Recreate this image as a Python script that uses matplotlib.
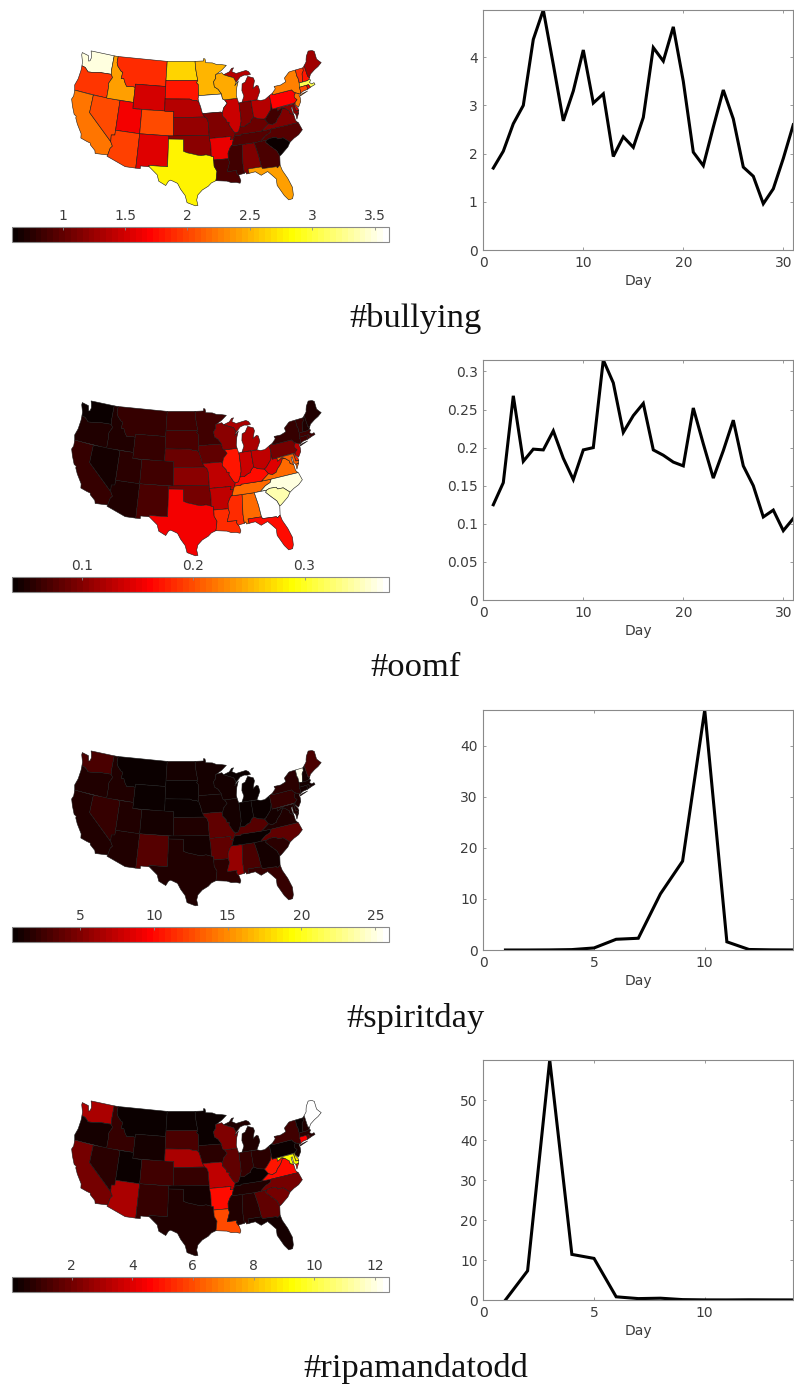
import numpy as np
import matplotlib
matplotlib.use("Agg")
import matplotlib.pyplot as plt
from matplotlib.collections import PolyCollection
from matplotlib.colors import Normalize
from matplotlib.cm import ScalarMappable

# ---- data -------------------------------------------------------------
TITLES = ["#bullying", "#oomf", "#spiritday", "#ripamandatodd"]

STATES = ["WA","OR","CA","NV","ID","MT","WY","UT","CO","AZ","NM","ND","SD","NE","KS","OK","TX",
          "MN","IA","MO","AR","LA","MS","AL","TN","KY","IL","IN","OH","MI","WI","WV","VA","NC",
          "SC","GA","FL","PA","NY","VT","NH","ME","MA","CT","RI","NJ","DE","MD"]

bullying_state = [3.5,1.95,2.2,2.05,2.4,1.9,1.5,1.65,2.05,2.0,1.57,2.65,1.8,1.38,1.22,1.18,2.78,
                  2.5,3.6,1.15,1.6,0.9,0.86,1.13,0.97,1.05,1.48,1.15,1.35,1.35,2.47,0.85,1.12,0.95,
                  0.62,0.9,2.4,1.7,2.25,1.95,1.8,1.3,3.05,2.05,1.65,2.2,1.5,1.2]
oomf_state = [.04,.05,.06,.045,.05,.062,.062,.055,.065,.05,.072,.066,.07,.085,.102,.092,.155,
              .065,.082,.13,.13,.185,.18,.215,.215,.165,.17,.137,.13,.12,.103,.145,.215,.365,
              .345,.375,.165,.092,.062,.06,.05,.05,.066,.066,.07,.13,.18,.21]
spiritday_state = [3.0,1.3,1.5,2.3,1.3,.6,.6,1.5,.8,1.3,3.4,1.1,.6,.6,1.3,1.1,1.3,
                   1.0,1.1,3.6,3.8,1.9,5.9,2.8,.6,3.2,1.1,.6,.6,.6,.8,1.0,1.5,3.6,
                   1.9,.8,2.3,2.1,1.9,25.5,.8,3.0,.8,1.1,1.1,1.5,1.5,1.5]
ripa_state = [3.05,.4,2.05,.75,.95,.1,.3,.12,1.05,3.05,.95,.1,1.3,3.0,.95,.4,.55,
              .2,.75,3.5,4.75,5.9,.55,.65,.55,.2,1.7,.95,.75,.5,2.2,5.0,4.8,2.05,
              2.05,1.65,.4,.2,1.05,.2,.55,12.4,.65,4.6,1.5,.3,8.9,9.3]

bullying_day = list(range(1, 32))
bullying_vals = [1.7,2.05,2.62,3.0,4.37,4.98,3.85,2.68,3.3,4.15,3.05,3.24,1.94,2.35,2.13,2.75,
                 4.2,3.92,4.63,3.5,2.03,1.75,2.55,3.32,2.72,1.72,1.53,.96,1.27,1.9,2.6]
oomf_day = list(range(1, 32))
oomf_vals = [.125,.154,.268,.182,.198,.197,.222,.186,.158,.197,.2,.315,.285,.22,.242,.258,
             .197,.19,.181,.176,.252,.205,.16,.196,.236,.176,.15,.109,.118,.091,.107]
spirit_day = list(range(1, 15))
spirit_vals = [0,0,.02,.08,.4,2.1,2.3,11,17.4,47,1.6,.1,.03,.01]
ripa_day = list(range(1, 15))
ripa_vals = [0,7.3,60,11.4,10.4,.8,.35,.45,.1,.03,.02,.05,.03,.02]

cbar_ranges = [(0.594,3.615),(0.0367,0.376),(0.39,25.93),(0.03,12.47)]
cbar_ticks = [[1,1.5,2,2.5,3,3.5],[0.1,0.2,0.3],[5,10,15,20,25],[2,4,6,8,10,12]]
cbar_labels = [["1","1.5","2","2.5","3","3.5"],["0.1","0.2","0.3"],
               ["5","10","15","20","25"],["2","4","6","8","10","12"]]
line_xlim = [31,31,14,14]
line_ylim = [4.98,0.315,47,60]
line_xticks = [[0,10,20,30],[0,10,20,30],[0,5,10],[0,5,10]]
line_yticks = [[0,1,2,3,4],[0,.05,.1,.15,.2,.25,.3],[0,10,20,30,40],[0,10,20,30,40,50]]
line_ylabels = [["0","1","2","3","4"],["0","0.05","0.1","0.15","0.2","0.25","0.3"],
                ["0","10","20","30","40"],["0","10","20","30","40","50"]]

# state outlines (lon, lat), simplified
SHAPES = {
"WA":[[(-124.7,48.38),(-123.1,48.15),(-122.75,47.3),(-122.45,47.4),(-122.3,47.9),(-122.5,48.5),(-122.75,49),(-117.04,49),(-117.04,46.42),(-116.92,45.99),(-119,45.93),(-119.6,45.92),(-121.2,45.65),(-122.3,45.55),(-122.8,45.9),(-123.2,46.15),(-124,46.27),(-124.1,46.9),(-124.7,48)]],
"OR":[[(-124,46.27),(-123.2,46.15),(-122.8,45.9),(-122.3,45.55),(-121.2,45.65),(-119.6,45.92),(-119,45.93),(-116.92,45.99),(-116.5,45.5),(-116.85,45),(-117.2,44.4),(-117.03,44),(-117.03,42),(-124.2,42),(-124.5,42.85),(-124.1,44),(-123.95,45.5)]],
"CA":[[(-124.2,42),(-120,42),(-120,39),(-114.63,35),(-114.14,34.3),(-114.5,33.9),(-114.72,32.72),(-117.12,32.53),(-117.3,33),(-118.4,33.75),(-118.5,34.03),(-119.2,34.15),(-120.5,34.45),(-120.65,35.15),(-121.9,36.6),(-122.5,37.5),(-122.5,37.8),(-123,38),(-123.8,39.3),(-124.35,40.4),(-124.1,41)]],
"NV":[[(-120,42),(-114.04,42),(-114.04,36.2),(-114.75,36.1),(-114.63,35),(-120,39)]],
"ID":[[(-117.04,49),(-116.05,49),(-116.05,48),(-115.7,47.45),(-114.7,46.7),(-114.35,46.65),(-114.5,45.6),(-113.9,45.65),(-113.45,44.95),(-113,44.45),(-111.5,44.55),(-111.05,44.48),(-111.05,42),(-117.03,42),(-117.03,44),(-117.2,44.4),(-116.85,45),(-116.5,45.5),(-116.92,45.99),(-117.04,46.42)]],
"MT":[[(-116.05,49),(-104.05,49),(-104.05,45),(-111.05,45),(-111.05,44.48),(-111.5,44.55),(-113,44.45),(-113.45,44.95),(-113.9,45.65),(-114.5,45.6),(-114.35,46.65),(-114.7,46.7),(-115.7,47.45),(-116.05,48)]],
"WY":[[(-111.05,45),(-104.05,45),(-104.05,41),(-111.05,41)]],
"UT":[[(-114.04,42),(-111.05,42),(-111.05,41),(-109.05,41),(-109.05,37),(-114.04,37)]],
"CO":[[(-109.05,41),(-102.05,41),(-102.05,37),(-109.05,37)]],
"AZ":[[(-114.04,37),(-109.05,37),(-109.05,31.33),(-111.07,31.33),(-114.81,32.5),(-114.72,32.72),(-114.5,33.9),(-114.14,34.3),(-114.63,35),(-114.75,36.1),(-114.04,36.2)]],
"NM":[[(-109.05,37),(-103,37),(-103.04,32),(-106.62,32),(-106.53,31.78),(-108.2,31.78),(-108.2,31.33),(-109.05,31.33)]],
"ND":[[(-104.05,49),(-97.23,49),(-97.1,48),(-96.85,47),(-96.56,45.94),(-104.05,45.94)]],
"SD":[[(-104.05,45.94),(-96.56,45.94),(-96.85,45.6),(-96.45,45.3),(-96.45,43.5),(-96.6,43),(-96.45,42.49),(-97,42.75),(-97.9,42.8),(-98.5,43),(-104.05,43)]],
"NE":[[(-104.05,43),(-98.5,43),(-97.9,42.8),(-97,42.75),(-96.45,42.49),(-96.1,41.7),(-95.9,41),(-95.31,40),(-102.05,40),(-102.05,41),(-104.05,41)]],
"KS":[[(-102.05,40),(-95.31,40),(-94.9,39.8),(-94.6,39.1),(-94.62,37),(-102.05,37)]],
"OK":[[(-103,37),(-94.62,37),(-94.43,35.4),(-94.48,33.64),(-95.5,33.9),(-96.5,33.8),(-97.2,33.9),(-98.1,34.1),(-99.2,34.3),(-100,34.56),(-100,36.5),(-103,36.5)]],
"TX":[[(-103.04,36.5),(-100,36.5),(-100,34.56),(-99.2,34.3),(-98.1,34.1),(-97.2,33.9),(-96.5,33.8),(-95.5,33.9),(-94.48,33.64),(-94.04,33.55),(-94.04,33),(-94.04,32),(-93.55,31.2),(-93.7,30.3),(-93.85,29.7),(-94.7,29.4),(-95.3,28.9),(-96.4,28.35),(-97.2,27.6),(-97.4,26.8),(-97.15,25.96),(-97.6,25.9),(-99.1,26.4),(-99.5,27.5),(-100.4,28.5),(-101,29.4),(-102.3,29.88),(-102.7,29.7),(-103.15,28.98),(-104.5,29.6),(-104.9,30.6),(-106.53,31.78),(-106.62,32),(-103.04,32)]],
"MN":[[(-97.23,49),(-95.15,49),(-95.15,49.38),(-94.8,49.3),(-94.6,48.7),(-93,48.6),(-92,48.3),(-90.8,48.2),(-89.6,48),(-90.8,47.3),(-92.1,46.75),(-92.3,46.65),(-92.3,46.1),(-92.85,45.6),(-92.75,44.75),(-91.9,44.3),(-91.22,43.5),(-96.45,43.5),(-96.45,45.3),(-96.85,45.6),(-96.56,45.94),(-96.85,47),(-97.1,48)]],
"IA":[[(-96.45,43.5),(-91.22,43.5),(-91.1,42.7),(-90.65,42.5),(-90.15,41.9),(-91.05,41.2),(-91.4,40.4),(-91.7,40.6),(-95.77,40.58),(-95.9,41),(-96.1,41.7),(-96.45,42.49),(-96.6,43)]],
"MO":[[(-95.77,40.58),(-91.7,40.6),(-91.4,40.4),(-91.5,40),(-90.75,39.3),(-90.7,38.9),(-90.15,38.8),(-90.25,38.4),(-89.5,37.3),(-89.15,37),(-89.4,36.5),(-89.7,36),(-90.37,36),(-90.15,36.5),(-94.62,36.5),(-94.62,37),(-94.6,39.1),(-94.9,39.8),(-95.31,40)]],
"AR":[[(-94.62,36.5),(-90.15,36.5),(-90.37,36),(-89.7,36),(-90.1,35.1),(-90.6,34.7),(-91.1,33.9),(-91.17,33),(-94.04,33),(-94.04,33.55),(-94.48,33.64),(-94.43,35.4)]],
"LA":[[(-94.04,33),(-91.17,33),(-91,32.4),(-91.6,31),(-89.73,31),(-89.85,30.65),(-89.55,30.2),(-89.4,30),(-89.2,29.3),(-89.4,28.95),(-90.1,29.15),(-91,29.2),(-91.8,29.5),(-92.3,29.55),(-93.85,29.7),(-93.7,30.3),(-93.55,31.2),(-94.04,32)]],
"MS":[[(-90.3,35),(-88.2,35),(-88.1,34.9),(-88.45,31.9),(-88.4,30.4),(-89.3,30.3),(-89.55,30.2),(-89.85,30.65),(-89.73,31),(-91.6,31),(-91,32.4),(-91.17,33),(-91.1,33.9),(-90.6,34.7)]],
"AL":[[(-88.2,35),(-85.6,34.98),(-85.18,32.87),(-85,31),(-87.6,31),(-87.5,30.3),(-88,30.25),(-88.1,30.6),(-88.4,30.4),(-88.45,31.9),(-88.1,34.9)]],
"TN":[[(-90.3,35),(-90.1,35.1),(-89.7,36),(-89.4,36.5),(-88.05,36.5),(-88.05,36.65),(-83.68,36.6),(-81.68,36.59),(-82,36.1),(-83.1,35.75),(-84.32,35),(-85.6,34.98),(-88.2,35)]],
"KY":[[(-89.4,36.5),(-89.15,37),(-88.5,37.1),(-88,37.85),(-87.1,37.8),(-86.3,38.15),(-85.7,38.3),(-85.4,38.75),(-84.8,39.1),(-84.2,38.8),(-83.65,38.62),(-82.6,38.42),(-81.97,37.54),(-83.68,36.6),(-88.05,36.65),(-88.05,36.5)]],
"IL":[[(-90.65,42.5),(-87.8,42.5),(-87.6,41.8),(-87.52,41.7),(-87.53,39.35),(-87.6,38.7),(-88,37.85),(-88.5,37.1),(-89.15,37),(-89.5,37.3),(-90.25,38.4),(-90.15,38.8),(-90.7,38.9),(-90.75,39.3),(-91.5,40),(-91.4,40.4),(-91.05,41.2),(-90.15,41.9)]],
"IN":[[(-87.52,41.7),(-87.2,41.76),(-86.82,41.76),(-84.8,41.76),(-84.8,39.1),(-85.4,38.75),(-85.7,38.3),(-86.3,38.15),(-87.1,37.8),(-88,37.85),(-87.6,38.7),(-87.53,39.35)]],
"OH":[[(-84.8,41.7),(-83.45,41.73),(-82.7,41.5),(-81.7,41.5),(-80.52,41.98),(-80.52,40.64),(-80.85,39.7),(-81.7,39),(-82.2,38.6),(-82.6,38.42),(-83.65,38.62),(-84.2,38.8),(-84.8,39.1)]],
"MI":[[(-86.82,41.76),(-84.8,41.76),(-83.45,41.73),(-83.15,42.1),(-82.45,43),(-82.6,43.9),(-83,44.05),(-83.9,43.65),(-83.3,44.85),(-83.45,45.35),(-84.75,45.75),(-85.5,44.9),(-86.25,44.7),(-86.5,43.6),(-86.2,42.7)],
      [(-90.4,46.55),(-89,46.9),(-88.4,47.4),(-87.9,47.47),(-88.4,46.9),(-87.4,46.5),(-86,46.65),(-85,46.75),(-84.4,46.5),(-84,46),(-84.75,45.95),(-85.5,46.05),(-86.5,45.85),(-87.6,45.1),(-88.1,45.9),(-89.1,46.15)]],
"WI":[[(-92.1,46.75),(-90.8,46.9),(-90.4,46.55),(-89.1,46.15),(-88.1,45.9),(-87.6,45.1),(-88,44.55),(-87.05,45.25),(-87.55,44.3),(-87.9,43),(-87.8,42.5),(-90.65,42.5),(-91.1,42.7),(-91.22,43.5),(-91.9,44.3),(-92.75,44.75),(-92.85,45.6),(-92.3,46.1),(-92.3,46.65)]],
"WV":[[(-80.52,40.64),(-80.52,39.72),(-79.48,39.72),(-79.48,39.2),(-78.4,39.6),(-77.75,39.32),(-78.35,39.4),(-78.85,38.8),(-79.3,38.4),(-79.9,38),(-80.3,37.5),(-81.25,37.25),(-81.97,37.54),(-82.6,38.42),(-82.2,38.6),(-81.7,39),(-80.85,39.7)]],
"VA":[[(-83.68,36.6),(-81.97,37.54),(-81.25,37.25),(-80.3,37.5),(-79.9,38),(-79.3,38.4),(-78.85,38.8),(-78.35,39.4),(-77.75,39.32),(-77.5,39.1),(-77.05,38.8),(-77,38.3),(-76.35,38.05),(-76.3,37),(-75.95,36.55),(-81.68,36.59)],
      [(-75.9,37.95),(-75.25,38.03),(-75.95,37.15)]],
"NC":[[(-84.32,35),(-83.1,35.75),(-82,36.1),(-81.68,36.59),(-75.87,36.55),(-75.5,35.25),(-76.5,34.65),(-77.6,34.3),(-78.55,33.86),(-79.67,34.8),(-80.8,34.82),(-81.05,35.15),(-82.4,35.2),(-83.1,35)]],
"SC":[[(-83.1,35),(-82.4,35.2),(-81.05,35.15),(-80.8,34.82),(-79.67,34.8),(-78.55,33.86),(-79.2,33.2),(-80.8,32.25),(-81.15,32.1),(-81.5,33),(-82.5,33.9),(-83.35,34.7)]],
"GA":[[(-85.6,34.98),(-84.32,35),(-83.1,35),(-83.35,34.7),(-82.5,33.9),(-81.5,33),(-81.15,32.1),(-81.45,30.7),(-82.05,30.36),(-82.2,30.57),(-84.86,30.7),(-85,31),(-85.18,32.87)]],
"FL":[[(-87.6,31),(-85,31),(-84.86,30.7),(-82.2,30.57),(-82.05,30.36),(-81.45,30.7),(-81.25,29.8),(-80.55,28.4),(-80.05,26.9),(-80.15,25.75),(-80.4,25.2),(-81.1,25.15),(-81.75,25.95),(-82.7,27.7),(-82.65,28.7),(-83.4,29.5),(-84,30.1),(-85.3,29.7),(-86.3,30.4),(-87.5,30.3)]],
"PA":[[(-80.52,41.98),(-79.76,42.25),(-79.76,42),(-75.35,42),(-75.05,41.6),(-74.7,41.36),(-75.15,40.95),(-75.2,40.65),(-74.75,40.2),(-75.4,39.8),(-80.52,39.72)]],
"NY":[[(-79.76,42.25),(-78.9,42.85),(-79.05,43.27),(-77.5,43.25),(-76.2,43.55),(-76.3,44.2),(-75,44.95),(-74.7,45),(-73.35,45.01),(-73.4,44),(-73.25,43.6),(-73.28,42.75),(-73.5,42.05),(-73.5,41.3),(-73.65,41),(-73.95,41),(-74.7,41.36),(-75.05,41.6),(-75.35,42),(-79.76,42)],
      [(-74,40.6),(-72,41.05),(-73.7,40.85)]],
"VT":[[(-73.35,45.01),(-71.5,45.01),(-71.6,44.5),(-72.05,44.1),(-72.46,42.73),(-73.28,42.75),(-73.25,43.6),(-73.4,44)]],
"NH":[[(-71.5,45.01),(-71.08,45.3),(-71.03,44.5),(-70.98,43.4),(-70.7,43.07),(-70.85,42.87),(-71.3,42.7),(-72.46,42.73),(-72.05,44.1),(-71.6,44.5)]],
"ME":[[(-71.08,45.3),(-70.4,45.8),(-70.25,46.2),(-70,46.7),(-69.23,47.46),(-68.3,47.35),(-67.8,47.07),(-67.8,45.7),(-67.45,45.3),(-67,44.85),(-68,44.4),(-69,44.1),(-70.2,43.6),(-70.7,43.07),(-70.98,43.4),(-71.03,44.5)]],
"MA":[[(-73.5,42.05),(-73.28,42.75),(-72.46,42.73),(-71.3,42.7),(-70.85,42.87),(-70.6,42.65),(-71,42.3),(-70.6,41.95),(-70.05,42.05),(-69.95,41.7),(-70.6,41.6),(-71.12,41.5),(-71.38,42.02),(-71.8,42.02)]],
"CT":[[(-73.5,42.05),(-71.8,42.02),(-71.85,41.32),(-72.9,41.25),(-73.65,41),(-73.5,41.3)]],
"RI":[[(-71.8,42.02),(-71.38,42.02),(-71.12,41.5),(-71.85,41.32)]],
"NJ":[[(-74.7,41.36),(-73.95,41),(-74.1,40.7),(-73.98,40.4),(-74.1,39.75),(-74.9,38.95),(-75.5,39.5),(-75.4,39.8),(-74.75,40.2),(-75.2,40.65),(-75.15,40.95)]],
"DE":[[(-75.8,39.72),(-75.4,39.8),(-75.55,39.45),(-75.1,38.8),(-75.05,38.45),(-75.7,38.46)]],
"MD":[[(-79.48,39.72),(-75.8,39.72),(-75.7,38.46),(-75.05,38.45),(-75.25,38.03),(-75.9,37.95),(-76.25,38.35),(-76.2,39.3),(-76.5,39.2),(-76.45,38.4),(-76.35,38.05),(-77,38.3),(-77.05,38.8),(-77.5,39.1),(-77.75,39.32),(-78.4,39.6),(-79.48,39.2)]],
}

# geographic reference points and where they fall on the map frame
LANDMARK_PAIRS = [
 ((-124.7,48.38),(250,50)),((-122.75,49),(275,45)),((-117.04,49),(345,62)),((-116.05,49),(355,65)),
 ((-104.05,49),(500,76)),((-97.23,49),(583,78)),((-95.15,49.38),(607,72)),((-89.6,48),(675,95)),
 ((-69.23,47.46),(930,42)),((-67,44.85),(965,85)),((-69.95,41.7),(948,148)),((-75.5,35.25),(902,280)),
 ((-80.4,25.2),(872,493)),((-80.05,26.9),(880,460)),((-81.45,30.7),(835,395)),((-97.15,25.96),(590,510)),
 ((-103.15,28.98),(495,450)),((-106.53,31.78),(447,397)),((-109.05,31.33),(413,403)),((-111.07,31.33),(380,400)),
 ((-117.12,32.53),(285,360)),((-120.5,34.45),(245,300)),((-122.5,37.8),(222,235)),((-124.35,40.4),(217,195)),
 ((-124.2,42),(225,170)),((-124,46.27),(240,100)),((-109.05,37),(415,295)),((-111.05,45),(405,147)),
 ((-104.05,45),(497,150)),((-104.05,41),(495,226)),((-111.05,41),(400,223)),((-102.05,41),(520,228)),
 ((-102.05,37),(520,305)),((-94.62,37),(625,310)),((-103,37),(505,305)),
 ((-91.6,31),(680,410)),((-87.5,30.3),(745,415)),((-85.6,34.98),(765,325)),((-83.1,35),(795,317)),
 ((-87.8,42.5),(710,195)),((-89.15,37),(706,288)),((-80.52,41.98),(812,178)),((-80.52,39.72),(815,218)),
 ((-92.1,46.75),(643,120)),((-87.9,47.47),(705,103)),((-90.4,46.55),(673,120)),((-84.4,46.5),(745,115)),
 ((-87.6,45.1),(708,130)),((-87.52,41.7),(718,200)),((-84.8,41.76),(757,200)),((-84.75,45.75),(750,125)),
 ((-82.6,43.9),(780,158)),((-83.45,41.73),(770,198)),((-82.6,38.42),(795,250)),((-84.8,39.1),(760,255)),
 ((-89.4,36.5),(705,298)),((-81.68,36.59),(797,282)),((-75.87,36.55),(900,268)),((-74.7,41.36),(885,170)),
 ((-75.4,39.8),(888,205)),((-78.9,42.85),(822,155)),((-76.2,43.55),(855,140)),((-75,44.95),(858,110)),
 ((-73.35,45.01),(890,102)),((-71.5,45.01),(905,100)),((-70.7,43.07),(920,135)),((-73.65,41),(900,180)),
 ((-75.95,37.15),(897,245)),((-90.65,42.5),(680,195)),((-91.5,40),(668,233)),((-95.77,40.58),(610,235)),
 ((-89.7,36),(700,305)),((-94.62,36.5),(628,313)),((-96.45,43.5),(600,180)),((-91.22,43.5),(665,180)),
 ((-94.04,33),(640,375)),((-91.17,33),(688,377)),((-93.85,29.7),(648,435)),((-89.4,28.95),(722,443)),
 ((-88.4,30.4),(730,415)),((-88.2,35),(728,330)),((-85,31),(782,400)),((-81.15,32.1),(843,365)),
 ((-78.55,33.86),(872,325)),((-82.7,27.7),(845,445)),((-83.4,29.5),(828,415)),((-85.3,29.7),(770,415)),
]
GEO_LANDMARKS = [g for g, _ in LANDMARK_PAIRS]
FRAME_LANDMARKS = [f for _, f in LANDMARK_PAIRS]

state_values = [bullying_state, oomf_state, spiritday_state, ripa_state]
series = [(bullying_day,bullying_vals),(oomf_day,oomf_vals),(spirit_day,spirit_vals),(ripa_day,ripa_vals)]

# ---- layout -----------------------------------------------------------
W, H = 794, 1389
GRAY = "#8a8a8a"
TXT = "#3c3c3c"
plt.rcParams["font.family"] = "DejaVu Sans"

def basis(p):
    lon = (p[:, 0] + 96) / 30.0
    lat = (p[:, 1] - 37) / 12.0
    return np.column_stack([np.ones_like(lon), lon, lat, lon * lon, lon * lat, lat * lat,
                            lon ** 3, lon * lon * lat, lon * lat * lat, lat ** 3])

_coef, *_ = np.linalg.lstsq(basis(np.array(GEO_LANDMARKS, float)),
                            np.array(FRAME_LANDMARKS, float), rcond=None)

def to_frame(p):
    return basis(np.asarray(p, float)) @ _coef

def rect(x0, y0, x1, y1):
    return [x0 / W, 1 - y1 / H, (x1 - x0) / W, (y1 - y0) / H]

owner, verts = [], []
for i, s in enumerate(STATES):
    for part in SHAPES[s]:
        verts.append(to_frame(part))
        owner.append(i)
owner = np.array(owner)

fig = plt.figure(figsize=(W / 100, H / 100), dpi=100, facecolor="white")
cmap = plt.get_cmap("hot", 64)

for k in range(4):
    off = 350 * k
    norm = Normalize(*cbar_ranges[k])

    # map: frame is 3 units per pixel
    ax = fig.add_axes(rect(0, 35 + off, 400, 222 + off))
    pc = PolyCollection(verts, array=np.array(state_values[k])[owner], cmap=cmap, norm=norm,
                        edgecolors="#1a1a1a", linewidths=0.4)
    ax.add_collection(pc)
    ax.set_xlim(0, 1200)
    ax.set_ylim(561 + 0, 0)
    ax.axis("off")

    # colour bar
    cax = fig.add_axes(rect(12, 227 + off, 389, 242 + off))
    cb = fig.colorbar(ScalarMappable(norm=norm, cmap=cmap), cax=cax, orientation="horizontal",
                      ticklocation="top")
    cb.set_ticks(cbar_ticks[k], labels=cbar_labels[k])
    cb.minorticks_off()
    cax.tick_params(axis="x", direction="in", length=2, width=0.6, color=GRAY,
                    labelcolor=TXT, labelsize=10, pad=3)
    cb.outline.set_edgecolor(GRAY)
    cb.outline.set_linewidth(0.8)

    # daily series
    la = fig.add_axes(rect(483.3, 10 + off, 793.3, 250 + off))
    d, v = series[k]
    la.plot(d, v, color="black", lw=2.2, solid_joinstyle="miter")
    la.set_xlim(0, line_xlim[k])
    la.set_ylim(0, line_ylim[k])
    la.set_xticks(line_xticks[k])
    la.set_yticks(line_yticks[k], labels=line_ylabels[k])
    la.tick_params(axis="both", direction="in", length=2.5, width=0.6, color=GRAY, labelcolor=TXT,
                   labelsize=10, top=True, right=True, pad=4)
    for sp in la.spines.values():
        sp.set_color(GRAY)
        sp.set_linewidth(0.8)
    la.set_xlabel("Day", color=TXT, fontsize=10, labelpad=3)

    fig.text(415.5 / W, 1 - (318 + off) / H, TITLES[k], ha="center", va="center",
             family="Liberation Serif", fontsize=24.8, color="#111111")

fig.savefig("out.png", dpi=100)
